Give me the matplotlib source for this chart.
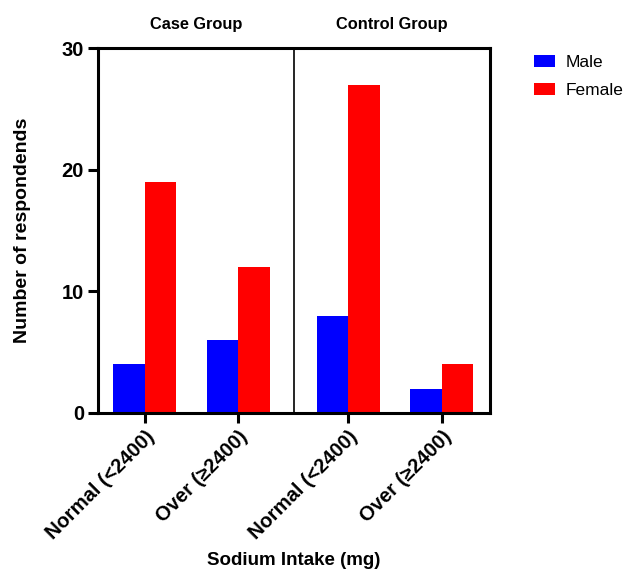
import matplotlib
matplotlib.use('Agg')
import matplotlib.pyplot as plt
import numpy as np

plt.rcParams['font.family'] = ['Liberation Sans', 'DejaVu Sans']

groups = ['Case Group', 'Control Group']
categories = ['Normal (<2400)', 'Over (≥2400)', 'Normal (<2400)', 'Over (≥2400)']
male = [4, 6, 8, 2]
female = [19, 12, 27, 4]

# two categories per group, with a wider gap between groups
pos = np.array([0, 1, 2.17, 3.17])
w = 0.337

fig = plt.figure(figsize=(6.27, 5.72), dpi=100)
ax = fig.add_axes([0.156, 0.278, 0.625, 0.638])

ax.bar(pos - w / 2, male, w, color='#0000ff', label='Male')
ax.bar(pos + w / 2, female, w, color='#ff0000', label='Female')

ax.set_xlim(-0.5, 3.68)
ax.set_ylim(0, 30)
ax.set_yticks([0, 10, 20, 30])
ax.set_xticks(pos)
ax.set_xticklabels(categories, rotation=45, ha='right', rotation_mode='anchor',
                   fontsize=14.5, fontweight='bold')
for lab in ax.get_yticklabels():
    lab.set_fontsize(14.5)
    lab.set_fontweight('bold')

for s in ax.spines.values():
    s.set_linewidth(2.2)
ax.tick_params(width=2.2, length=7, pad=3)

sep = 1.59
ax.axvline(sep, color='black', lw=1.2)
ax.text((ax.get_xlim()[0] + sep) / 2, 1.065, groups[0], transform=ax.get_xaxis_transform(),
        ha='center', va='center', fontsize=11.8, fontweight='bold')
ax.text((ax.get_xlim()[1] + sep) / 2, 1.065, groups[1], transform=ax.get_xaxis_transform(),
        ha='center', va='center', fontsize=11.8, fontweight='bold')

ax.set_ylabel('Number of respondends', fontsize=14, fontweight='bold', labelpad=22)
ax.set_xlabel('Sodium Intake (mg)', fontsize=13.5, fontweight='bold', labelpad=7)

ax.legend(loc='upper left', bbox_to_anchor=(1.112, 0.982), frameon=False, fontsize=12.5,
          borderpad=0, borderaxespad=0, handlelength=1.25, handleheight=0.7,
          handletextpad=0.6, labelspacing=0.75)

fig.savefig('out.png', dpi=100)
